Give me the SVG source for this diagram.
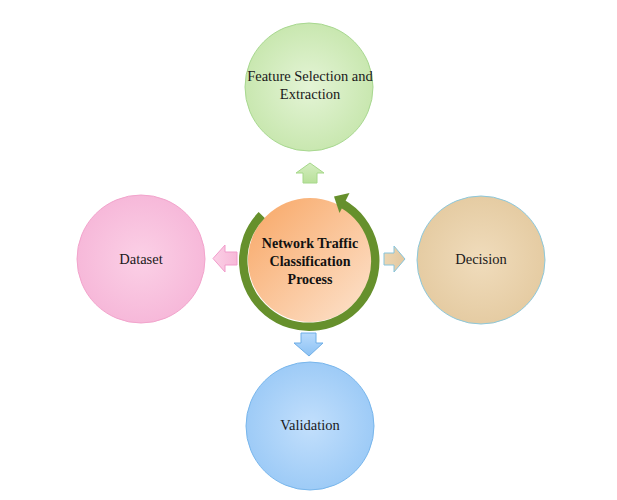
<svg xmlns="http://www.w3.org/2000/svg" width="617" height="500" viewBox="0 0 617 500">
<defs>
<radialGradient id="gGreen" cx="50%" cy="50%" r="55%"><stop offset="0" stop-color="#e4f4d6"/><stop offset="1" stop-color="#c6e6ac"/></radialGradient>
<radialGradient id="gPink" cx="50%" cy="50%" r="55%"><stop offset="0" stop-color="#fbd0e6"/><stop offset="1" stop-color="#f6b6d8"/></radialGradient>
<radialGradient id="gTan" cx="50%" cy="50%" r="55%"><stop offset="0" stop-color="#f0dcbc"/><stop offset="1" stop-color="#e4caa0"/></radialGradient>
<radialGradient id="gBlue" cx="50%" cy="50%" r="55%"><stop offset="0" stop-color="#c2dffc"/><stop offset="1" stop-color="#9ac9f6"/></radialGradient>
<linearGradient id="gOrange" x1="0" y1="0" x2="1" y2="1"><stop offset="0" stop-color="#f8a664"/><stop offset="1" stop-color="#fde4cf"/></linearGradient>
<linearGradient id="aGreen" x1="0" y1="0" x2="0" y2="1"><stop offset="0" stop-color="#d4eec0"/><stop offset="1" stop-color="#b8e09a"/></linearGradient>
<linearGradient id="aPink" x1="0" y1="0" x2="1" y2="0"><stop offset="0" stop-color="#fbd0e6"/><stop offset="1" stop-color="#f7b8d8"/></linearGradient>
<linearGradient id="aTan" x1="0" y1="0" x2="1" y2="0"><stop offset="0" stop-color="#ecd6b2"/><stop offset="1" stop-color="#e2c8a0"/></linearGradient>
<linearGradient id="aBlue" x1="0" y1="0" x2="0" y2="1"><stop offset="0" stop-color="#b8dafc"/><stop offset="1" stop-color="#8cc2f4"/></linearGradient>
</defs>
<style>
.t{font-family:"Liberation Serif","Times New Roman",serif;font-size:14.5px;fill:#1a1a1a;text-anchor:middle}
.b{font-weight:bold;font-size:14px;fill:#111}
.c{stroke-width:1}
</style>
<rect width="617" height="500" fill="#ffffff"/>
<g id="connectors">
<path d="M310,163 L324,173 L317,173 L317,183 L303,183 L303,173 L296,173 Z" fill="url(#aGreen)" stroke="#a6d88a" stroke-width="1"/>
<path d="M213,258.5 L225,245 L225,252 L237,252 L237,265 L225,265 L225,272 Z" fill="url(#aPink)" stroke="#f19ccb" stroke-width="1"/>
<path d="M405,259 L394,246 L394,253 L384,253 L384,265 L394,265 L394,272 Z" fill="url(#aTan)" stroke="#86c4dc" stroke-width="1"/>
<path d="M309,356 L323,343 L316,343 L316,333 L301,333 L301,343 L294,343 Z" fill="url(#aBlue)" stroke="#6faee6" stroke-width="1"/>
</g>
<g id="top"><circle cx="309" cy="87" r="64" fill="url(#gGreen)" stroke="#a8d890" class="c"/>
<text class="t" x="310" y="81">Feature Selection and</text><text class="t" x="310" y="99">Extraction</text></g>
<g id="left"><circle cx="141" cy="259" r="64" fill="url(#gPink)" stroke="#f2a4cc" class="c"/>
<text class="t" x="141" y="264">Dataset</text></g>
<g id="right"><circle cx="481" cy="260" r="64" fill="url(#gTan)" stroke="#8cc8dc" class="c"/>
<text class="t" x="481" y="264">Decision</text></g>
<g id="bottom"><circle cx="310" cy="426" r="64" fill="url(#gBlue)" stroke="#78b6ec" class="c"/>
<text class="t" x="310" y="430">Validation</text></g>
<g id="center">
<circle cx="310" cy="260" r="62" fill="url(#gOrange)"/>
<path d="M261.7,215 A66,66 0 1 0 342,203.5" fill="none" stroke="#66902c" stroke-width="8.5"/>
<path d="M334,196.5 L349.5,193 L339.5,213 Z" fill="#66902c"/>
<text class="t b" x="310" y="248">Network Traffic</text>
<text class="t b" x="310" y="266">Classification</text>
<text class="t b" x="310" y="284">Process</text>
</g>
</svg>
